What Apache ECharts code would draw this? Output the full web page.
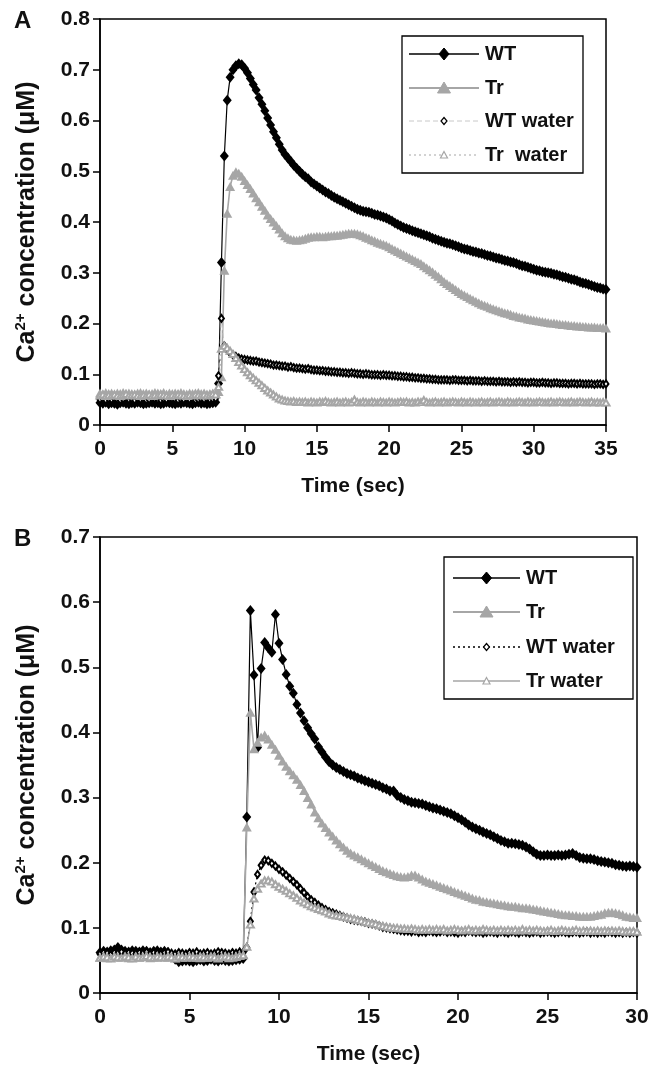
<!DOCTYPE html>
<html>
<head>
<meta charset="utf-8">
<script src="https://cdn.jsdelivr.net/npm/echarts@6/dist/echarts.min.js"></script>
<style>
html,body{margin:0;padding:0;background:#fff;}
#chart{width:663px;height:1066px;}
</style>
</head>
<body>
<div id="chart"></div>
<script>
// ---------- DATA ----------
// sampling interval (s) of the recordings
const sampleStep = 0.2;
const ticksA = [0, 5, 10, 15, 20, 25, 30, 35];
const ticksB = [0, 5, 10, 15, 20, 25, 30];
const seriesNames = ['WT', 'Tr', 'WT water', 'Tr  water'];
const seriesNamesB = ['WT', 'Tr', 'WT water', 'Tr water'];

// Panel A  (t = 0 ... 35 s, one row per second)
const wtA = [
0.044,0.043,0.045,0.042,0.044, 0.043,0.041,0.044,0.045,0.043, 0.042,0.044,0.043,0.045,0.044,
0.042,0.043,0.044,0.045,0.043, 0.044,0.042,0.043,0.045,0.044, 0.043,0.042,0.044,0.043,0.045,
0.044,0.043,0.042,0.044,0.045, 0.043,0.044,0.042,0.043,0.044,
0.045,0.082,0.320,0.530,0.640, 0.685,0.700,0.708,0.712,0.710,
0.703,0.694,0.683,0.671,0.660, 0.645,0.632,0.619,0.605,0.591,
0.578,0.566,0.553,0.542,0.533, 0.526,0.519,0.512,0.506,0.500,
0.494,0.489,0.485,0.479,0.475, 0.471,0.467,0.463,0.459,0.456,
0.452,0.449,0.446,0.443,0.440, 0.437,0.434,0.431,0.428,0.425,
0.423,0.421,0.420,0.419,0.417, 0.415,0.414,0.412,0.410,0.408,
0.405,0.402,0.398,0.395,0.392, 0.389,0.387,0.385,0.383,0.381,
0.379,0.377,0.375,0.373,0.371, 0.368,0.366,0.364,0.362,0.360,
0.358,0.357,0.355,0.353,0.351, 0.349,0.347,0.346,0.344,0.342,
0.341,0.339,0.338,0.336,0.334, 0.333,0.331,0.329,0.328,0.326,
0.324,0.323,0.321,0.320,0.318, 0.316,0.314,0.313,0.311,0.309,
0.307,0.305,0.304,0.302,0.301, 0.300,0.299,0.297,0.296,0.294,
0.292,0.291,0.289,0.287,0.286, 0.284,0.282,0.280,0.279,0.277,
0.275,0.273,0.271,0.270,0.268, 0.267];
const trA = [
0.063,0.061,0.064,0.062,0.063, 0.061,0.063,0.062,0.064,0.062, 0.063,0.062,0.061,0.063,0.064,
0.062,0.063,0.061,0.062,0.064, 0.063,0.062,0.064,0.061,0.063, 0.062,0.063,0.062,0.064,0.062,
0.061,0.063,0.062,0.063,0.064, 0.062,0.063,0.061,0.062,0.063,
0.062,0.066,0.095,0.305,0.417, 0.470,0.492,0.499,0.496,0.490,
0.482,0.474,0.466,0.457,0.448, 0.440,0.431,0.423,0.414,0.407,
0.400,0.393,0.386,0.379,0.373, 0.369,0.366,0.365,0.364,0.365,
0.366,0.368,0.370,0.371,0.371, 0.372,0.372,0.371,0.372,0.373,
0.373,0.374,0.374,0.375,0.376, 0.377,0.378,0.378,0.378,0.377,
0.375,0.373,0.370,0.368,0.365, 0.363,0.360,0.358,0.356,0.354,
0.351,0.348,0.345,0.342,0.339, 0.336,0.333,0.330,0.327,0.324,
0.321,0.318,0.314,0.310,0.306, 0.302,0.297,0.293,0.288,0.283,
0.279,0.275,0.271,0.267,0.263, 0.259,0.256,0.253,0.250,0.247,
0.244,0.241,0.238,0.236,0.234, 0.231,0.229,0.227,0.225,0.223,
0.221,0.220,0.218,0.216,0.215, 0.213,0.212,0.211,0.209,0.208,
0.207,0.206,0.205,0.204,0.203, 0.202,0.201,0.201,0.200,0.199,
0.198,0.198,0.197,0.196,0.196, 0.195,0.195,0.194,0.194,0.193,
0.193,0.193,0.192,0.192,0.192, 0.191];
const wtWaterA = [
0.050,0.052,0.049,0.051,0.050, 0.052,0.050,0.049,0.051,0.053, 0.050,0.051,0.049,0.052,0.050,
0.051,0.049,0.050,0.052,0.051, 0.050,0.049,0.051,0.050,0.052, 0.051,0.050,0.049,0.051,0.050,
0.052,0.050,0.051,0.049,0.050, 0.051,0.050,0.052,0.050,0.051,
0.052,0.097,0.210,0.156,0.148, 0.142,0.138,0.135,0.132,0.130,
0.129,0.128,0.127,0.126,0.126, 0.124,0.123,0.122,0.121,0.120,
0.118,0.118,0.117,0.116,0.116, 0.114,0.115,0.113,0.112,0.112,
0.111,0.110,0.111,0.109,0.108, 0.108,0.107,0.107,0.106,0.106,
0.105,0.105,0.104,0.104,0.103, 0.103,0.102,0.103,0.102,0.101,
0.101,0.100,0.101,0.100,0.099, 0.099,0.099,0.098,0.099,0.098,
0.098,0.097,0.097,0.096,0.096, 0.095,0.095,0.094,0.094,0.093,
0.093,0.092,0.092,0.091,0.091, 0.090,0.090,0.089,0.089,0.089,
0.089,0.088,0.089,0.089,0.088, 0.088,0.088,0.087,0.088,0.087,
0.087,0.087,0.086,0.087,0.086, 0.086,0.086,0.085,0.086,0.085,
0.085,0.085,0.084,0.085,0.084, 0.085,0.084,0.084,0.083,0.084,
0.084,0.083,0.083,0.084,0.083, 0.083,0.082,0.083,0.083,0.082,
0.082,0.082,0.081,0.082,0.082, 0.081,0.082,0.081,0.081,0.081,
0.081,0.080,0.081,0.081,0.080, 0.081];
const trWaterA = [
0.058,0.060,0.057,0.059,0.058, 0.060,0.058,0.057,0.059,0.061, 0.058,0.059,0.060,0.058,0.057,
0.059,0.058,0.060,0.057,0.059, 0.058,0.060,0.059,0.058,0.057, 0.059,0.058,0.060,0.059,0.058,
0.057,0.059,0.058,0.060,0.059, 0.058,0.060,0.058,0.059,0.061,
0.060,0.075,0.150,0.156,0.152, 0.146,0.140,0.132,0.124,0.117,
0.110,0.104,0.098,0.093,0.088, 0.083,0.078,0.073,0.068,0.064,
0.060,0.056,0.052,0.050,0.048, 0.047,0.046,0.047,0.045,0.046,
0.045,0.046,0.044,0.046,0.045, 0.044,0.046,0.045,0.047,0.045,
0.044,0.045,0.046,0.044,0.045, 0.046,0.044,0.045,0.050,0.045,
0.044,0.046,0.045,0.044,0.046, 0.045,0.044,0.046,0.045,0.044,
0.046,0.045,0.044,0.045,0.046, 0.045,0.046,0.044,0.045,0.044,
0.046,0.045,0.049,0.045,0.044, 0.045,0.046,0.044,0.045,0.046,
0.044,0.045,0.046,0.045,0.044, 0.046,0.045,0.044,0.046,0.045,
0.044,0.045,0.046,0.044,0.045, 0.046,0.044,0.045,0.046,0.045,
0.044,0.046,0.045,0.044,0.045, 0.046,0.045,0.044,0.046,0.045,
0.044,0.045,0.046,0.045,0.044, 0.045,0.046,0.044,0.045,0.046,
0.045,0.044,0.045,0.046,0.044, 0.045,0.046,0.045,0.044,0.045,
0.046,0.044,0.045,0.044,0.045, 0.044];

// Panel B  (t = 0 ... 30 s, one row per second)
const wtB = [
0.062,0.064,0.063,0.065,0.066, 0.070,0.066,0.064,0.063,0.065, 0.064,0.063,0.065,0.064,0.062,
0.064,0.065,0.063,0.064,0.062, 0.058,0.052,0.048,0.049,0.050, 0.049,0.048,0.050,0.051,0.049,
0.050,0.052,0.050,0.049,0.051, 0.050,0.049,0.050,0.051,0.052,
0.053,0.270,0.587,0.488,0.377, 0.498,0.538,0.530,0.523,0.581,
0.537,0.512,0.489,0.471,0.460, 0.443,0.430,0.418,0.407,0.398,
0.390,0.378,0.370,0.362,0.355, 0.350,0.346,0.343,0.340,0.337,
0.335,0.333,0.330,0.328,0.326, 0.324,0.322,0.320,0.318,0.315,
0.313,0.310,0.310,0.303,0.300, 0.297,0.295,0.293,0.292,0.291,
0.290,0.288,0.286,0.284,0.283, 0.281,0.279,0.277,0.275,0.272,
0.269,0.266,0.262,0.258,0.255, 0.252,0.250,0.247,0.245,0.243,
0.240,0.237,0.234,0.232,0.230, 0.230,0.229,0.228,0.227,0.224,
0.221,0.217,0.213,0.211,0.211, 0.212,0.211,0.211,0.212,0.211,
0.212,0.213,0.214,0.211,0.208, 0.207,0.206,0.206,0.205,0.203,
0.202,0.201,0.200,0.199,0.197, 0.196,0.195,0.194,0.195,0.194,
0.193];
const trB = [
0.055,0.057,0.054,0.056,0.058, 0.055,0.057,0.056,0.054,0.057, 0.056,0.055,0.058,0.056,0.054,
0.057,0.055,0.056,0.058,0.055, 0.056,0.054,0.057,0.055,0.056, 0.058,0.055,0.056,0.054,0.057,
0.055,0.057,0.056,0.055,0.058, 0.056,0.054,0.057,0.056,0.058,
0.060,0.255,0.431,0.375,0.385, 0.393,0.396,0.390,0.382,0.374,
0.365,0.356,0.348,0.341,0.335, 0.328,0.320,0.311,0.300,0.290,
0.278,0.269,0.261,0.254,0.247, 0.241,0.235,0.229,0.224,0.219,
0.215,0.212,0.209,0.206,0.203, 0.200,0.197,0.194,0.191,0.188,
0.186,0.184,0.182,0.180,0.179, 0.178,0.179,0.181,0.181,0.178,
0.175,0.172,0.170,0.168,0.166, 0.164,0.162,0.160,0.158,0.156,
0.154,0.152,0.150,0.148,0.146, 0.144,0.143,0.141,0.140,0.139,
0.138,0.137,0.136,0.135,0.134, 0.133,0.133,0.132,0.131,0.131,
0.130,0.129,0.128,0.127,0.126, 0.125,0.124,0.123,0.122,0.121,
0.120,0.120,0.119,0.119,0.118, 0.118,0.118,0.118,0.119,0.120,
0.121,0.123,0.124,0.124,0.123, 0.122,0.120,0.118,0.117,0.116,
0.116];
const wtWaterB = [
0.060,0.062,0.061,0.059,0.062, 0.061,0.063,0.060,0.062,0.061, 0.060,0.062,0.061,0.063,0.060,
0.062,0.061,0.060,0.062,0.063, 0.061,0.060,0.062,0.061,0.060, 0.062,0.061,0.063,0.060,0.061,
0.062,0.060,0.061,0.063,0.062, 0.061,0.060,0.062,0.061,0.063,
0.062,0.070,0.110,0.155,0.182, 0.196,0.204,0.203,0.199,0.195,
0.190,0.186,0.181,0.176,0.171, 0.166,0.160,0.154,0.148,0.143,
0.139,0.135,0.131,0.128,0.125, 0.123,0.121,0.119,0.117,0.115,
0.113,0.112,0.111,0.110,0.109, 0.107,0.106,0.105,0.103,0.101,
0.100,0.099,0.098,0.097,0.096, 0.095,0.095,0.094,0.095,0.093,
0.094,0.093,0.095,0.094,0.093, 0.094,0.095,0.093,0.094,0.093,
0.092,0.094,0.093,0.095,0.094, 0.093,0.094,0.092,0.093,0.094,
0.093,0.092,0.094,0.093,0.092, 0.094,0.093,0.092,0.094,0.093,
0.092,0.093,0.094,0.092,0.093, 0.094,0.093,0.092,0.093,0.094,
0.093,0.092,0.093,0.094,0.092, 0.093,0.094,0.092,0.093,0.092,
0.093,0.092,0.094,0.093,0.092, 0.093,0.092,0.093,0.092,0.093,
0.092];
const trWaterB = [
0.054,0.056,0.055,0.053,0.056, 0.055,0.054,0.056,0.055,0.053, 0.056,0.054,0.055,0.057,0.055,
0.054,0.056,0.055,0.054,0.056, 0.055,0.053,0.056,0.055,0.054, 0.056,0.055,0.054,0.056,0.055,
0.054,0.056,0.055,0.053,0.055, 0.056,0.055,0.054,0.056,0.057,
0.058,0.071,0.105,0.145,0.160, 0.168,0.173,0.173,0.171,0.167,
0.163,0.160,0.157,0.153,0.150, 0.146,0.142,0.139,0.136,0.133,
0.131,0.129,0.127,0.125,0.122, 0.120,0.119,0.118,0.117,0.116,
0.115,0.114,0.112,0.111,0.109, 0.108,0.107,0.106,0.104,0.103,
0.102,0.101,0.100,0.100,0.099, 0.099,0.098,0.099,0.098,0.097,
0.098,0.097,0.098,0.097,0.098, 0.097,0.098,0.096,0.097,0.098,
0.097,0.096,0.097,0.098,0.096, 0.097,0.096,0.098,0.097,0.096,
0.097,0.096,0.097,0.096,0.097, 0.096,0.097,0.096,0.098,0.096,
0.097,0.096,0.097,0.096,0.095, 0.096,0.097,0.095,0.096,0.097,
0.096,0.095,0.096,0.097,0.095, 0.096,0.095,0.096,0.095,0.096,
0.095,0.096,0.095,0.096,0.095, 0.096,0.095,0.094,0.095,0.095,
0.094];

// ---------- CHART ----------
const FONT = '"Liberation Sans", Arial, sans-serif';
const BLACK = '#000';
const GRAY = '#a6a6a6';
const LIGHT = '#c8c8c8';

function toPairs(vals) { return vals.map((v, i) => [+(i * sampleStep).toFixed(1), v]); }

function xAxis(gridIndex, ticks) {
  return {
    type: 'value', gridIndex, min: ticks[0], max: ticks[ticks.length - 1], interval: 5,
    name: 'Time (sec)', nameLocation: 'middle', nameGap: 51,
    nameTextStyle: { fontFamily: FONT, fontWeight: 'bold', fontSize: 21, color: '#111' },
    axisLine: { show: true, onZero: false, lineStyle: { color: BLACK, width: 1.5 } },
    axisTick: { show: true, inside: false, length: 7, lineStyle: { color: BLACK, width: 1.5 } },
    axisLabel: { fontFamily: FONT, fontWeight: 'bold', fontSize: 21, color: '#111', margin: 14 },
    splitLine: { show: false }
  };
}
function yAxis(gridIndex, max) {
  return {
    type: 'value', gridIndex, min: 0, max, interval: 0.1,
    name: '{a|Ca}{b|2+}{a| concentration (μM)}', nameLocation: 'middle', nameGap: 58,
    nameTextStyle: {
      fontFamily: FONT, fontWeight: 'bold', fontSize: 25, color: '#111',
      rich: {
        a: { fontFamily: FONT, fontWeight: 'bold', fontSize: 25, color: '#111', lineHeight: 29 },
        b: { fontFamily: FONT, fontWeight: 'bold', fontSize: 15, color: '#111', lineHeight: 15, verticalAlign: 'top' }
      }
    },
    axisLine: { show: true, lineStyle: { color: BLACK, width: 1.5 } },
    axisTick: { show: true, inside: false, length: 7, lineStyle: { color: BLACK, width: 1.5 } },
    axisLabel: { fontFamily: FONT, fontWeight: 'bold', fontSize: 21, color: '#111', margin: 10 },
    splitLine: { show: false }
  };
}

function series(name, vals, idx, kind, panel) {
  const s = { name, type: 'line', xAxisIndex: idx, yAxisIndex: idx, data: toPairs(vals),
    showAllSymbol: true, animation: false, z: 2 };
  if (kind === 'wt') {
    Object.assign(s, { symbol: 'diamond', symbolSize: [9, 11], itemStyle: { color: BLACK },
      lineStyle: { color: BLACK, width: 1.2 } });
  } else if (kind === 'tr') {
    Object.assign(s, { symbol: 'triangle', symbolSize: [10, 9], itemStyle: { color: GRAY },
      lineStyle: { color: GRAY, width: 1.6 } });
  } else if (kind === 'wtw') {
    Object.assign(s, { symbol: 'emptyDiamond', symbolSize: [5, 7],
      itemStyle: { color: BLACK, borderColor: BLACK, borderWidth: 1.1 },
      lineStyle: panel === 'A' ? { color: LIGHT, width: 1, type: [5, 3] } : { color: BLACK, width: 1.2, type: [2, 3] } });
  } else {
    Object.assign(s, { symbol: 'emptyTriangle', symbolSize: [7, 6],
      itemStyle: { color: GRAY, borderColor: GRAY, borderWidth: 1.1 },
      lineStyle: panel === 'A' ? { color: GRAY, width: 1, type: [2, 3] } : { color: GRAY, width: 1.4 } });
  }
  return s;
}

// legend drawn as graphic (per-item marker sizes differ)
function legendGraphic(box, rows, lineX, textX, names, panel) {
  const els = [{ type: 'rect', shape: box, style: { fill: '#fff', stroke: BLACK, lineWidth: 1.3 }, z: 100 }];
  const styles = [
    { stroke: BLACK, lineWidth: 1.3 },
    { stroke: GRAY, lineWidth: 1.8 },
    panel === 'A' ? { stroke: LIGHT, lineWidth: 1, lineDash: [5, 3] } : { stroke: BLACK, lineWidth: 1.3, lineDash: [2, 3] },
    panel === 'A' ? { stroke: GRAY, lineWidth: 1, lineDash: [2, 3] } : { stroke: GRAY, lineWidth: 1.6 }
  ];
  const cx = (lineX[0] + lineX[1]) / 2;
  rows.forEach((y, i) => {
    els.push({ type: 'line', shape: { x1: lineX[0], y1: y, x2: lineX[1], y2: y }, style: styles[i], z: 101 });
    let pts, st;
    if (i === 0) { pts = [[cx, y - 6], [cx + 5, y], [cx, y + 6], [cx - 5, y]]; st = { fill: BLACK, stroke: BLACK }; }
    else if (i === 1) { pts = [[cx, y - 6], [cx + 6.5, y + 5], [cx - 6.5, y + 5]]; st = { fill: GRAY, stroke: GRAY }; }
    else if (i === 2) { pts = [[cx, y - 3.5], [cx + 3, y], [cx, y + 3.5], [cx - 3, y]]; st = { fill: '#fff', stroke: BLACK, lineWidth: 1.2 }; }
    else { pts = [[cx, y - 3.5], [cx + 3.5, y + 3], [cx - 3.5, y + 3]]; st = { fill: '#fff', stroke: GRAY, lineWidth: 1.2 }; }
    els.push({ type: 'polygon', shape: { points: pts }, style: st, z: 102 });
    els.push({ type: 'text', x: textX, y, style: { text: names[i], fontFamily: FONT, fontWeight: 'bold',
      fontSize: 20, fill: '#111', verticalAlign: 'middle', align: 'left' }, z: 102 });
  });
  return els;
}

const chart = echarts.init(document.getElementById('chart'), null, { renderer: 'canvas' });
const option = {
  backgroundColor: '#fff',
  animation: false,
  grid: [
    { left: 100, top: 19, width: 506, height: 406, show: true, borderColor: BLACK, borderWidth: 1.5, backgroundColor: '#fff' },
    { left: 100, top: 537, width: 537, height: 458, show: true, borderColor: BLACK, borderWidth: 1.5, backgroundColor: '#fff' }
  ],
  xAxis: [xAxis(0, ticksA), xAxis(1, ticksB)],
  yAxis: [yAxis(0, 0.8), yAxis(1, 0.7)],
  series: [
    series(seriesNames[0], wtA, 0, 'wt', 'A'),
    series(seriesNames[1], trA, 0, 'tr', 'A'),
    series(seriesNames[2], wtWaterA, 0, 'wtw', 'A'),
    series(seriesNames[3], trWaterA, 0, 'trw', 'A'),
    series(seriesNamesB[0], wtB, 1, 'wt', 'B'),
    series(seriesNamesB[1], trB, 1, 'tr', 'B'),
    series(seriesNamesB[2], wtWaterB, 1, 'wtw', 'B'),
    series(seriesNamesB[3], trWaterB, 1, 'trw', 'B')
  ],
  graphic: [
    { type: 'text', x: 14, y: 9, style: { text: 'A', fontFamily: FONT, fontWeight: 'bold', fontSize: 24, fill: '#111' } },
    { type: 'text', x: 14, y: 527, style: { text: 'B', fontFamily: FONT, fontWeight: 'bold', fontSize: 24, fill: '#111' } },
    ...legendGraphic({ x: 402, y: 36, width: 181, height: 137 }, [54, 88, 121, 155], [409, 479], 485, seriesNames, 'A'),
    ...legendGraphic({ x: 444, y: 557, width: 189, height: 142 }, [578, 612, 647, 681], [453, 520], 526, seriesNamesB, 'B')
  ]
};
chart.setOption(option);
</script>
</body>
</html>
